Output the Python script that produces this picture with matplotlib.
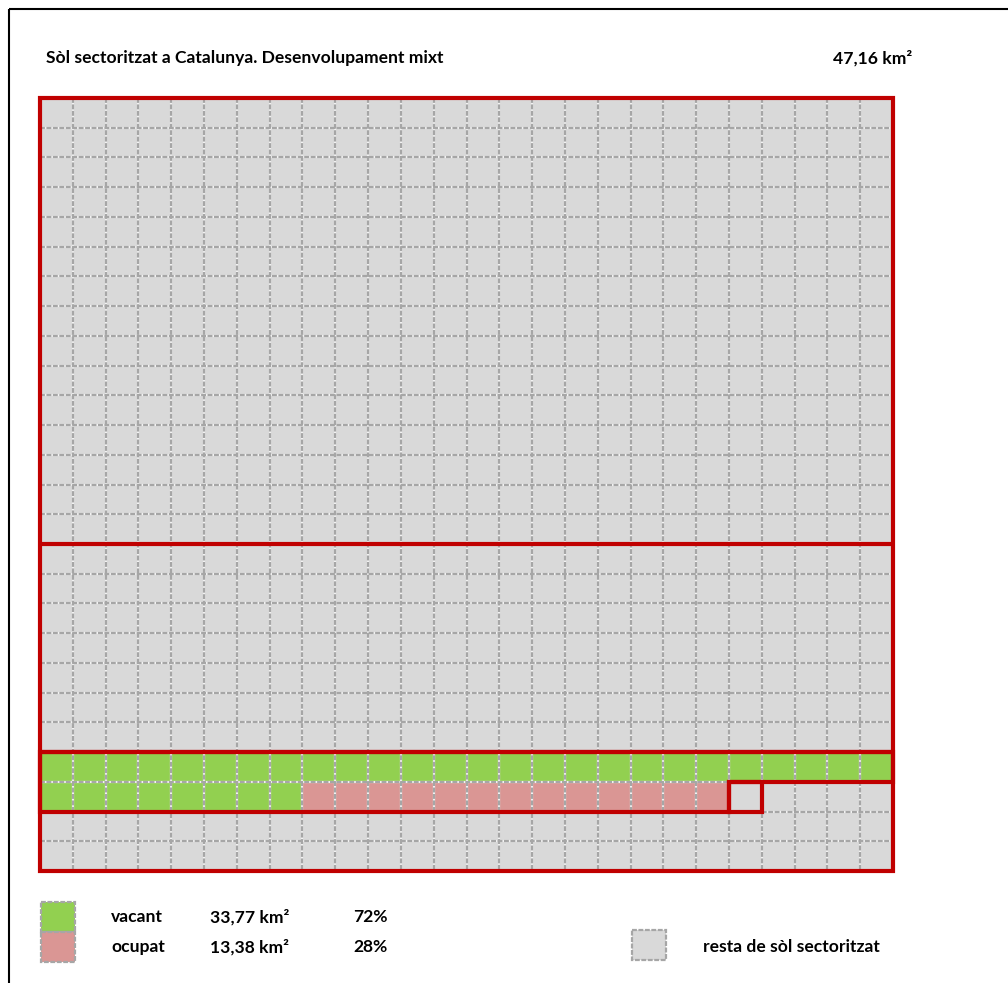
import matplotlib.pyplot as plt
from matplotlib.patches import Rectangle, Polygon
import numpy as np

plt.rcParams['font.family'] = ['Lato', 'DejaVu Sans']

# dades
titol = 'Sòl sectoritzat a Catalunya. Desenvolupament mixt'
total_km2 = 47.16
categories = ['vacant', 'ocupat']
valors_km2 = [33.77, 13.38]
percentatges = [72, 28]
colors_cat = ['#92d050', '#da9694']
etiqueta_resta = 'resta de sòl sectoritzat'

n_cols = 26
n_rows = 26
fila_inici = 22          # fila (des de dalt) on comença el bloc acolorit
files_vermelles = [15, 22]  # separadors vermells complets

gris = '#d9d9d9'
gris_linia = '#a6a6a6'
vermell = '#c00000'
fs = 12.6

fig = plt.figure(figsize=(10.08, 9.83), dpi=100)

# capa en píxels per a textos i marc
ax0 = fig.add_axes([0, 0, 1, 1])
ax0.set_xlim(0, 1008)
ax0.set_ylim(983, 0)
ax0.axis('off')
ax0.add_patch(Rectangle((9, 9), 1100, 1100, fill=False, ec='black', lw=1.5))

ax0.text(46, 58, titol, fontsize=fs, fontweight='bold', va='center', ha='left')
ax0.text(833, 58, f'{total_km2:.2f}'.replace('.', ',') + ' km²', fontsize=fs,
         fontweight='bold', va='center', ha='left')

# graella
ax = fig.add_axes([40 / 1008, 1 - 871 / 983, 853 / 1008, 773 / 983])
ax.set_xlim(0, n_cols)
ax.set_ylim(n_rows, 0)
ax.axis('off')
ax.add_patch(Rectangle((0, 0), n_cols, n_rows, color=gris, zorder=0))

# cel·les acolorides
n_cel = [int(round(v)) for v in valors_km2]
k = 0
for cat_i, n in enumerate(n_cel):
    for _ in range(n):
        r = fila_inici + k // n_cols
        c = k % n_cols
        ax.add_patch(Rectangle((c, r), 1, 1, color=colors_cat[cat_i], zorder=1, lw=0))
        k += 1

# línies de la graella (gris discontinu)
estil = dict(color=gris_linia, lw=1.6, ls=(0, (2.2, 0.7)), zorder=3)
for i in range(1, n_cols):
    ax.plot([i, i], [0, n_rows], color='#f2f2f2', lw=1.6, zorder=2)
    ax.plot([i, i], [0, n_rows], **estil)
for j in range(1, n_rows):
    ax.plot([0, n_cols], [j, j], color='#f2f2f2', lw=1.6, zorder=2)
    ax.plot([0, n_cols], [j, j], **estil)

# contorns vermells
for f in files_vermelles:
    ax.plot([0, n_cols], [f, f], color=vermell, lw=3, zorder=5, solid_capstyle='butt')
ax.add_patch(Rectangle((0, 0), n_cols, n_rows, fill=False, ec=vermell, lw=3, zorder=6,
                       clip_on=False, joinstyle='miter'))

n_total = int(np.ceil(total_km2))
r_last = fila_inici + (n_total - 1) // n_cols
c_last = (n_total - 1) % n_cols
bloc = [(0, fila_inici), (n_cols, fila_inici), (n_cols, r_last), (c_last, r_last),
        (c_last, r_last + 1), (0, r_last + 1)]
ax.add_patch(Polygon(bloc, closed=True, fill=False, ec=vermell, lw=3, zorder=6,
                     joinstyle='miter', clip_on=False))
ax.add_patch(Rectangle((c_last, r_last), 1, 1, fill=False, ec=vermell, lw=3, zorder=6,
                       joinstyle='miter'))

# llegenda
def quadre(x, y, color):
    ax0.add_patch(Rectangle((x, y), 34, 30, facecolor=color, edgecolor=gris_linia,
                            lw=1.6, ls=(0, (2.2, 0.7)), zorder=3))

for i, cat in enumerate(categories):
    y = 917 + 30 * i
    quadre(41, y - 15, colors_cat[i])
    ax0.text(111, y, cat, fontsize=fs, fontweight='bold', va='center')
    ax0.text(210, y, f'{valors_km2[i]:.2f}'.replace('.', ',') + ' km²', fontsize=fs,
             fontweight='bold', va='center')
    ax0.text(353, y, f'{percentatges[i]}%', fontsize=fs, fontweight='bold', va='center')

quadre(632, 930, gris)
ax0.text(703, 947, etiqueta_resta, fontsize=fs, fontweight='bold', va='center')

fig.savefig('out.png', dpi=100)
